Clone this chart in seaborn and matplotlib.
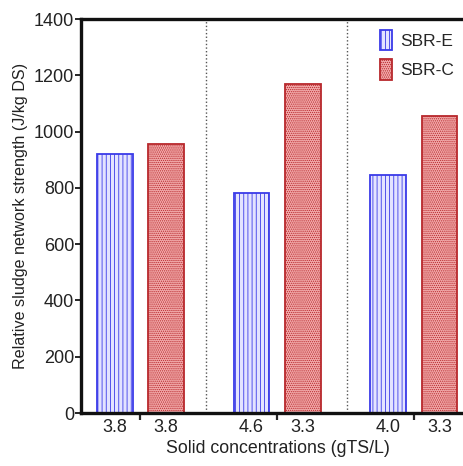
import matplotlib
matplotlib.use("Agg")
import matplotlib.pyplot as plt
import seaborn as sns
import pandas as pd
from matplotlib.patches import Patch

# Sludge network strength per experiment group
groups = ["G1", "G2", "G3"]
series = ["SBR-E", "SBR-C"]
sbr_e = [920, 782, 845]
sbr_c = [955, 1170, 1055]
# Solid concentration (gTS/L) printed under each bar
conc_e = ["3.8", "4.6", "4.0"]
conc_c = ["3.8", "3.3", "3.3"]
yticks = [0, 200, 400, 600, 800, 1000, 1200, 1400]

df = pd.DataFrame({
    "group": groups * 2,
    "series": [series[0]] * 3 + [series[1]] * 3,
    "value": sbr_e + sbr_c,
})

sns.set_style("ticks")
plt.rcParams["font.family"] = ["Liberation Sans", "DejaVu Sans"]
plt.rcParams["hatch.linewidth"] = 0.6

fig = plt.figure(figsize=(4.64, 4.66), dpi=100)
ax = fig.add_axes([0.1746, 0.1137, 0.85, 0.8455])

face = {"SBR-E": "#e4e4ff", "SBR-C": "#f2aaaa"}
edge = {"SBR-E": "#3a3ae8", "SBR-C": "#b8282c"}
hatch = {"SBR-E": "||||", "SBR-C": "........"}

sns.barplot(data=df, x="group", y="value", hue="series", order=groups,
            hue_order=series, palette=face, width=0.75, gap=0.3,
            legend=False, ax=ax, saturation=1)

for name, cont in zip(series, ax.containers):
    for bar in cont:
        bar.set_edgecolor(edge[name])
        bar.set_hatch(hatch[name])
        bar.set_linewidth(1.3)

# dotted separators between groups
for xv in [0.48, 1.51]:
    ax.axvline(xv, color="#555555", linestyle=(0, (1, 1.6)), linewidth=1.0, zorder=0)

ax.set_xlim(-0.434, 2.45)
ax.set_ylim(0, 1400)
ax.set_yticks(yticks)

# group ticks unlabeled, each bar labelled with its concentration
ax.set_xticks([0, 1, 2])
ax.set_xticklabels([])
centers, labels = [], []
for cont, labs in zip(ax.containers, [conc_e, conc_c]):
    for bar, lab in zip(cont, labs):
        centers.append(bar.get_x() + bar.get_width() / 2)
        labels.append(lab)
ax.set_xticks(centers, minor=True)
ax.set_xticklabels(labels, minor=True)
ax.tick_params(axis="x", which="minor", length=0, pad=4, labelsize=13, labelcolor="#222222")
ax.tick_params(axis="x", which="major", length=5, width=1.6, direction="out")
ax.tick_params(axis="y", length=4, width=1.4, labelsize=13, labelcolor="#222222", pad=1)

for s in ["left", "bottom", "top"]:
    ax.spines[s].set_linewidth(2.4)
    ax.spines[s].set_color("#111111")
ax.spines["right"].set_visible(False)

ax.set_xlabel("Solid concentrations (gTS/L)", fontsize=12.8, color="#222222", labelpad=3)
ax.set_ylabel("Relative sludge network strength (J/kg DS)", fontsize=11.6, color="#222222", labelpad=4)

handles = [Patch(facecolor=face[n], edgecolor=edge[n], hatch=hatch[n], linewidth=1.3) for n in series]
ax.legend(handles, series, loc="upper left", bbox_to_anchor=(0.74, 0.99), frameon=False,
          fontsize=12.5, handlelength=0.7, handleheight=1.4, handletextpad=0.45,
          labelspacing=0.55, borderaxespad=0)

fig.savefig("out.png", dpi=100)
